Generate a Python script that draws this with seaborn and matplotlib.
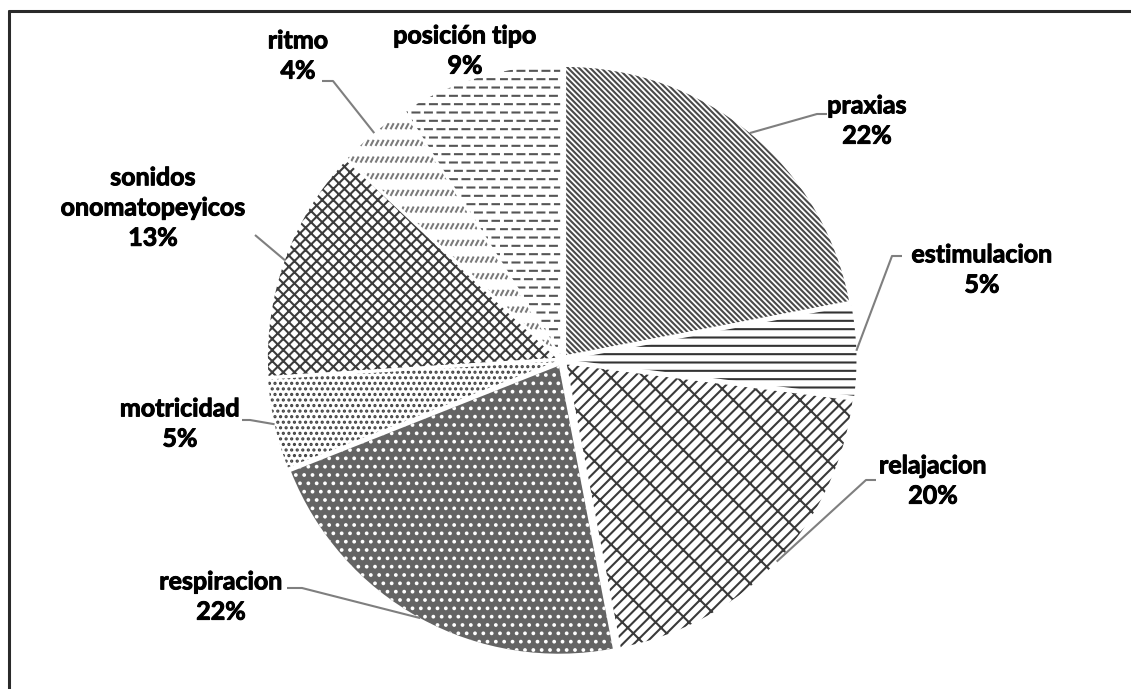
import numpy as np
import matplotlib
matplotlib.use("Agg")
import matplotlib.pyplot as plt
import matplotlib.patheffects as pe
from matplotlib import hatch as mhatch
from matplotlib.path import Path
from matplotlib.lines import Line2D
import seaborn as sns

# Share of activities
categories = ["praxias", "estimulacion", "relajacion", "respiracion",
              "motricidad", "sonidos\nonomatopeyicos", "ritmo", "posición tipo"]
shares = [22, 5, 20, 22, 5, 13, 4, 9]


# --- dashed fill textures ('O': horizontal dashes, 'o': slanted strokes) ---
class DashRowsHatch(mhatch.HatchPatternBase):
    rows, per_row, frac, stagger = 12, 8, 0.55, 0.4

    def __init__(self, hatch, density):
        self.num_vertices = 2 * self.rows * self.per_row if "O" in hatch else 0

    def set_vertices_and_codes(self, vertices, codes):
        k = 0
        for i in range(self.rows):
            y = (i + 0.5) / self.rows
            s = self.stagger if i % 2 else 0.0
            for j in range(self.per_row):
                x0 = (j + s) / self.per_row
                vertices[k] = (x0, y)
                vertices[k + 1] = (x0 + self.frac / self.per_row, y)
                codes[k], codes[k + 1] = Path.MOVETO, Path.LINETO
                k += 2


class SlashRowsHatch(mhatch.HatchPatternBase):
    rows, per_row, dx, dy = 6, 20, 0.022, 0.042

    def __init__(self, hatch, density):
        self.num_vertices = 2 * self.rows * self.per_row if "o" in hatch else 0

    def set_vertices_and_codes(self, vertices, codes):
        k = 0
        for i in range(self.rows):
            y = (i + 0.3) / self.rows
            for j in range(self.per_row):
                x0 = (j + 0.2) / self.per_row
                vertices[k] = (x0, y)
                vertices[k + 1] = (x0 + self.dx, y + self.dy)
                codes[k], codes[k + 1] = Path.MOVETO, Path.LINETO
                k += 2


mhatch._hatch_types = [t for t in mhatch._hatch_types
                       if t not in (mhatch.SmallCircles, mhatch.LargeCircles)]
mhatch._hatch_types += [DashRowsHatch, SlashRowsHatch]

sns.set_theme(style="white")
plt.rcParams["font.family"] = ["Lato", "DejaVu Sans"]
plt.rcParams["hatch.linewidth"] = 1.5

W, H, DPI = 1131, 689, 100
CX, CY, R = 562, 360, 288   # pie centre and radius in pixels
EXPLODE = 0.0226

fig = plt.figure(figsize=(W / DPI, H / DPI), dpi=DPI)
ax = fig.add_axes([0, 0, 1, 1])


def px(x, y):
    """Pixel position -> data coordinates (pie radius = 1)."""
    return (x - CX) / R, (CY - y) / R


# fill styles per slice: hatch, hatch colour, face colour
styles = [
    ("\\" * 6, "#4a4a4a", "white"),
    ("--", "#333333", "white"),
    ("///\\", "#3a3a3a", "white"),
    ("..", "white", "#646464"),
    ("...", "#404040", "white"),
    ("xxx", "#3c3c3c", "white"),
    ("o", "#7a7a7a", "white"),
    ("O", "#555555", "white"),
]

wedges, _ = ax.pie(shares, startangle=90, counterclock=False, radius=1,
                   explode=[EXPLODE] * len(shares),
                   wedgeprops=dict(linewidth=0))
for w, (hatch, hc, fc) in zip(wedges, styles):
    w.set_facecolor(fc)
    w.set_edgecolor(hc)
    w.set_hatch(hatch)
    w.set_linewidth(0)

# label layout: text centre (px), leader knee and end (px)
layout = [
    ((867, 121), (817, 114), (827, 114)),
    ((982, 270), (892, 256), (902, 256)),
    ((933, 481), (866, 480), (876, 480)),
    ((221, 597), (302, 588), (287, 588)),
    ((180, 424), (250, 420), (242, 420)),
    ((153, 208), (255, 235), None),
    ((298, 56), (333, 81), (322, 81)),
    ((465, 51), None, None),
]

heavy = [pe.withStroke(linewidth=0.7, foreground="black")]
for w, cat, val, (tpos, knee, end) in zip(wedges, categories, shares, layout):
    tx, ty = px(*tpos)
    ax.text(tx, ty, f"{cat}\n{val}%", ha="center", va="center",
            multialignment="center", fontsize=18, fontweight="bold",
            color="black", linespacing=1.38, path_effects=heavy)
    if knee is None:
        continue
    mid = np.deg2rad((w.theta1 + w.theta2) / 2)
    ex, ey = (1 + EXPLODE) * np.cos(mid), (1 + EXPLODE) * np.sin(mid)
    pts = [(ex, ey), px(*knee)]
    if end is not None:
        pts.append(px(*end))
    xs, ys = zip(*pts)
    ax.plot(xs, ys, color="#7f7f7f", lw=1.5, solid_capstyle="butt")

ax.set_xlim(-CX / R, (W - CX) / R)
ax.set_ylim((CY - H) / R, CY / R)
ax.set_aspect("auto")
ax.axis("off")

# outer frame (top and left edges visible)
fig.add_artist(Line2D([9 / W, 9 / W], [0, 1 - 11 / H], color="#2a2a2a", lw=2.2,
                      transform=fig.transFigure))
fig.add_artist(Line2D([9 / W, 1], [1 - 11 / H, 1 - 11 / H], color="#2a2a2a", lw=2.2,
                      transform=fig.transFigure))

fig.savefig("out.png", dpi=DPI, facecolor="white")
